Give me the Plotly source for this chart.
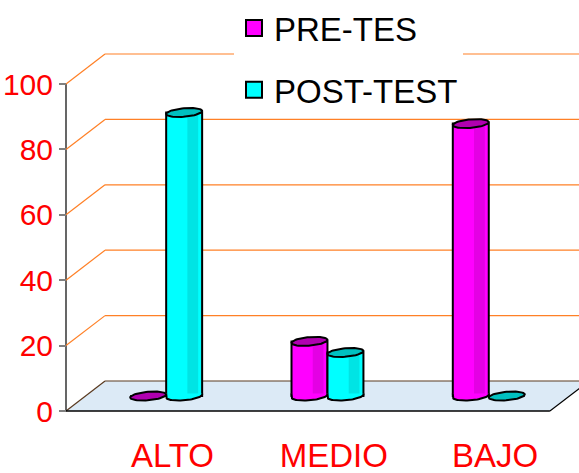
import numpy as np
import plotly.graph_objects as go

# ---- data -------------------------------------------------------------
categories = ["ALTO", "MEDIO", "BAJO"]
pre_test = [0.0, 16.7, 83.3]
post_test = [86.7, 13.3, 0.0]
series_names = ["PRE-TES", "POST-TEST"]
y_ticks = [0, 20, 40, 60, 80, 100]

# ---- styling ----------------------------------------------------------
body_colors = ["#FF00FF", "#00FFFF"]
shade_colors = ["#E400E4", "#00E4E4"]
cap_colors = ["#B000B0", "#00C0C0"]
grid_color = "#FF8026"
floor_color = "#DCEAF6"
edge_brown = "#5A3A20"
FONT = "Liberation Sans, Arial, sans-serif"

# oblique 3-D projection, expressed in axis units
DEPTH_X = 0.242      # horizontal shift of the back wall
DEPTH_Y = 9.17       # vertical shift of the back wall
BAR_W = 0.223        # cylinder width
CAP_FRAC = 0.3       # share of the floor depth taken by a cylinder
LABEL_SHIFT = 0.16   # category labels sit under the middle of the floor
X0, X1 = -0.5, 2.5   # floor front edge
Y_TOP = 100

n = len(categories)
base = DEPTH_Y / 2   # bars stand in the middle of the floor depth
hx = CAP_FRAC / 2 * DEPTH_X
hy = CAP_FRAC / 2 * DEPTH_Y
a = np.sqrt((BAR_W / 2) ** 2 - hx ** 2)
t_star = np.arctan2(hx, a)


def ring(xc, yc, t0, t1, npts=40):
    t = np.linspace(t0, t1, npts)
    return xc + a * np.cos(t) + hx * np.sin(t), yc + hy * np.sin(t)


fig = go.Figure()

# ---- floor, walls and gridlines -----------------------------------------
shapes = [
    dict(type="path", layer="below", fillcolor=floor_color, line=dict(width=0),
         path=f"M{X0},0 L{X1},0 L{X1 + DEPTH_X},{DEPTH_Y} L{X0 + DEPTH_X},{DEPTH_Y} Z"),
    dict(type="line", layer="below", x0=X0, y0=0, x1=X0 + DEPTH_X, y1=DEPTH_Y,
         line=dict(color=edge_brown, width=1.2)),
    dict(type="line", layer="below", x0=X0 + DEPTH_X, y0=DEPTH_Y, x1=X1 + DEPTH_X, y1=DEPTH_Y,
         line=dict(color=edge_brown, width=1.2)),
    dict(type="line", layer="below", x0=X0, y0=0, x1=X1, y1=0,
         line=dict(color="black", width=1.5)),
    dict(type="line", layer="below", x0=X1, y0=0, x1=X1 + DEPTH_X, y1=DEPTH_Y,
         line=dict(color="black", width=1.2)),
    dict(type="line", layer="below", x0=X0, y0=0, x1=X0, y1=Y_TOP,
         line=dict(color="black", width=1.2)),
]
for v in y_ticks[1:]:
    shapes.append(dict(type="line", layer="below", x0=X0, y0=v, x1=X0 + DEPTH_X, y1=v + DEPTH_Y,
                       line=dict(color=grid_color, width=1.2)))
    shapes.append(dict(type="line", layer="below", x0=X0 + DEPTH_X, y0=v + DEPTH_Y,
                       x1=X1 + DEPTH_X, y1=v + DEPTH_Y,
                       line=dict(color=grid_color, width=1.2)))

# ---- cylinders --------------------------------------------------------
for s, vals in enumerate([pre_test, post_test]):
    side = -1 if s == 0 else 1
    xc = [i + DEPTH_X / 2 + side * BAR_W / 2 for i in range(n)]

    fig.add_trace(go.Bar(
        x=xc, y=vals, base=base, width=BAR_W,
        marker=dict(color=body_colors[s], line=dict(color="black", width=2)),
        showlegend=False, hoverinfo="skip"))
    fig.add_trace(go.Bar(
        x=[c + BAR_W * 0.24 for c in xc], y=vals, base=base, width=BAR_W * 0.3,
        marker=dict(color=shade_colors[s], line=dict(width=0)),
        showlegend=False, hoverinfo="skip"))

    for c, v in zip(xc, vals):
        # rounded front of the cylinder foot
        bx, by = ring(c, base, np.pi + t_star, 2 * np.pi + t_star)
        bx = np.concatenate([[c - BAR_W / 2], bx, [c + BAR_W / 2]])
        by = np.concatenate([[base + 0.8], by, [base + 0.8]])
        if v > 0:
            fig.add_trace(go.Scatter(
                x=bx, y=by, mode="lines", fill="toself", fillcolor=body_colors[s],
                line=dict(color="black", width=2), showlegend=False, hoverinfo="skip"))
        # top cap
        cx, cy = ring(c, base + v, 0, 2 * np.pi, 60)
        fig.add_trace(go.Scatter(
            x=cx, y=cy, mode="lines", fill="toself", fillcolor=cap_colors[s],
            line=dict(color="black", width=2), showlegend=False, hoverinfo="skip"))

# legend entries
for s, name in enumerate(series_names):
    fig.add_trace(go.Scatter(
        x=[None], y=[None], mode="markers", name=name, legendgroup=name,
        marker=dict(symbol="square", size=16, color=body_colors[s],
                    line=dict(color="black", width=2))))

# ---- layout -----------------------------------------------------------
KX = 161.3   # px per category
KY = 3.27    # px per value unit
ML = 56
PLOT_B = 433
W, H = 579, 473
x_min = X0 - (66 - ML) / KX
x_max = X0 + (W - 66) / KX
y_min = -(PLOT_B - 411) / KY
y_max = 411 / KY

fig.update_layout(
    width=W, height=H,
    margin=dict(l=ML, r=0, t=0, b=H - PLOT_B, autoexpand=False),
    paper_bgcolor="white", plot_bgcolor="white",
    barmode="overlay",
    shapes=shapes,
    showlegend=True,
    legend=dict(x=(234 - ML) / (W - ML), y=1.0, xanchor="left", yanchor="top",
                bgcolor="white", borderwidth=0, traceorder="grouped",
                tracegroupgap=16, font=dict(family=FONT, size=33, color="black")),
    xaxis=dict(range=[x_min, x_max], showgrid=False, zeroline=False, showline=False,
               automargin=False, anchor="free", position=17 / PLOT_B,
               tickmode="array", tickvals=[i + LABEL_SHIFT for i in range(n)],
               ticktext=categories, ticks="outside", ticklen=10, tickcolor="rgba(0,0,0,0)",
               tickfont=dict(family=FONT, size=33, color="#FF0000")),
    yaxis=dict(range=[y_min, y_max], showgrid=False, zeroline=False, showline=False,
               automargin=False,
               anchor="free", position=(66 - ML) / (W - ML),
               tickmode="array", tickvals=y_ticks, ticks="outside", ticklen=7,
               tickcolor="#808080", tickwidth=1.5,
               tickfont=dict(family=FONT, size=30, color="#FF0000")),
)

fig.write_html("out.html")
